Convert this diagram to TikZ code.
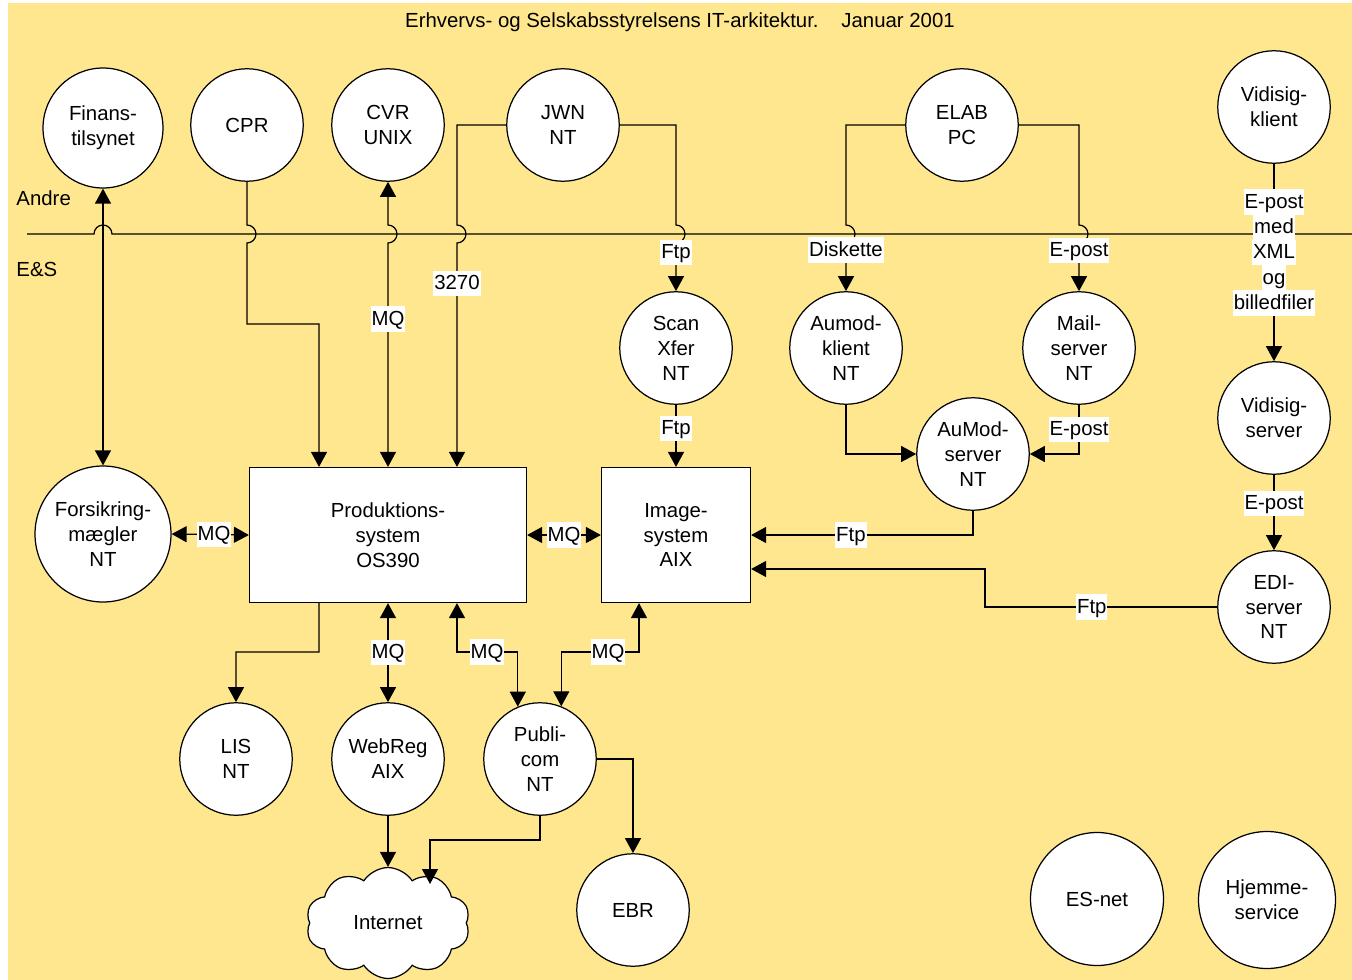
\documentclass[tikz,border=0pt]{standalone}
\usepackage{fontspec}
\setmainfont{Liberation Sans}
\usetikzlibrary{arrows.meta,shapes.symbols}
\definecolor{esyellow}{RGB}{255,231,143}
\tikzset{
  sys/.style={circle, draw, fill=white, minimum size=2.25cm, inner sep=0pt, align=center},
  host/.style={rectangle, draw, fill=white, minimum height=2.7cm, inner sep=0pt, align=center},
  lbl/.style={fill=white, inner xsep=0.5pt, inner ysep=1pt, text height=9.8pt, text depth=2.7pt}
}
\begin{document}
\begin{tikzpicture}[
  x=0.02cm, y=-0.02cm,
  line width=0.7pt,
  >={Triangle[length=0.3cm,width=0.32cm]},
  font=\fontsize{11.6}{14.2}\selectfont
]
\useasboundingbox (0,0) rectangle (1352,980);
\fill[esyellow] (8,3) rectangle (1352,980);

% Title
\node (title) at (680,22) {Erhvervs- og Selskabsstyrelsens IT-arkitektur.\hspace{13pt}Januar 2001};

% Border between Andre and E&S
\node[anchor=west] (andre) at (10,198) {Andre};
\node[anchor=west] (es) at (10,269) {E\&S};
\draw (27,234) -- (94,234) arc[start angle=180,end angle=0,radius=0.18cm] -- (1352,234);

% Systems outside
\node[sys, minimum size=2.4cm] (fin) at (103,128) {Finans-\\tilsynet};
\node[sys] (cpr) at (247,125) {CPR};
\node[sys] (cvr) at (388,125) {CVR\\UNIX};
\node[sys] (jwn) at (563,125) {JWN\\NT};
\node[sys] (elab) at (962,125) {ELAB\\PC};
\node[sys] (vkl) at (1274,107) {Vidisig-\\klient};

% Systems at E&S
\node[sys] (scan) at (676,348) {Scan\\Xfer\\NT};
\node[sys] (akl) at (846,348) {Aumod-\\klient\\NT};
\node[sys] (mail) at (1079,348) {Mail-\\server\\NT};
\node[sys] (asrv) at (973,454) {AuMod-\\server\\NT};
\node[sys] (vsrv) at (1274,418) {Vidisig-\\server};
\node[sys] (edi) at (1274,607) {EDI-\\server\\NT};
\node[sys, minimum size=2.72cm] (fors) at (103,534) {Forsikring-\\mægler\\NT};
\node[host, minimum width=5.54cm] (prod) at (388,535) {Produktions-\\system\\OS390};
\node[host, minimum width=2.98cm] (img) at (676,535) {Image-\\system\\AIX};
\node[sys] (lis) at (236,759) {LIS\\NT};
\node[sys] (web) at (388,759) {WebReg\\AIX};
\node[sys] (pub) at (540,759) {Publi-\\com\\NT};
\node[sys] (ebr) at (633,910) {EBR};
\node[cloud, cloud puffs=10, cloud puff arc=115, aspect=1.5, draw, fill=white,
  minimum width=3.28cm, minimum height=2.22cm] (net) at (388,923) {Internet};
\coordinate (netin) at (430,884);
\node[sys, minimum size=2.66cm] (esnet) at (1097,899) {ES-net};
\node[sys, minimum size=2.74cm] (hjem) at (1267,900) {Hjemme-\\service};

% Connections across the border
\draw[<->] (fin.south) -- (fors.north);
\draw[->] (cpr.south) -- (247,225) arc[start angle=90,end angle=-90,radius=0.18cm]
  -- (247,324) -| ([xshift=-1.38cm]prod.north);
\draw[<->] (cvr.south) -- (388,225) arc[start angle=90,end angle=-90,radius=0.18cm]
  -- node[lbl,pos=0.34]{MQ} (prod.north);
\draw[->] (jwn.west) -| (457,225) arc[start angle=90,end angle=-90,radius=0.18cm]
  -- node[lbl,pos=0.18]{3270} ([xshift=1.38cm]prod.north);
\draw[->] (jwn.east) -| (676,225) arc[start angle=90,end angle=-90,radius=0.18cm]
  -- node[lbl,pos=0.2]{Ftp} (scan.north);
\draw[->] (elab.west) -| (846,225) arc[start angle=90,end angle=-90,radius=0.18cm]
  -- node[lbl,pos=0.15]{Diskette} (akl.north);
\draw[->] (elab.east) -| (1079,225) arc[start angle=90,end angle=-90,radius=0.18cm]
  -- node[lbl,pos=0.16]{E-post} (mail.north);
\draw[->] (vkl.south) -- (vsrv.north);
\foreach \w [count=\i] in {E-post,med,XML,og,billedfiler}
  \node[lbl] (vtxt\i) at (1274,177+25.2*\i) {\w};

% Connections at E&S
\draw[->] (scan.south) -- node[lbl,pos=0.38]{Ftp} (img.north);
\draw[->] (akl.south) |- (asrv.west);
\draw[->] (mail.south) |- node[lbl,pos=0.25]{E-post} (asrv.east);
\draw[->] (asrv.south) |- node[lbl,pos=0.775]{Ftp} (img.east);
\draw[->] (vsrv.south) -- node[lbl,pos=0.38]{E-post} (edi.north);
\draw[->] (edi.west) -- node[lbl,pos=0.54]{Ftp} (985,607) |- ([yshift=-0.68cm]img.east);
\draw[<->] (fors.east) -- node[lbl,pos=0.55]{MQ} (prod.west);
\draw[<->] (prod.east) -- node[lbl]{MQ} (img.west);
\draw[->] ([xshift=-1.38cm]prod.south) -- (319,652) -| (lis.north);
\draw[<->] (prod.south) -- node[lbl]{MQ} (web.north);
\draw[<->] ([xshift=1.38cm]prod.south) |- (487,652) node[lbl]{MQ} -| (pub.113);
\draw[<->] ([xshift=-0.74cm]img.south) |- (608,652) node[lbl]{MQ} -| (pub.68);
\draw[->] (pub.east) -| (ebr.north);
\draw[->] (web.south) -- (net.north);
\draw[->] (pub.south) -- (540,840) -| (netin);
\end{tikzpicture}
\end{document}
